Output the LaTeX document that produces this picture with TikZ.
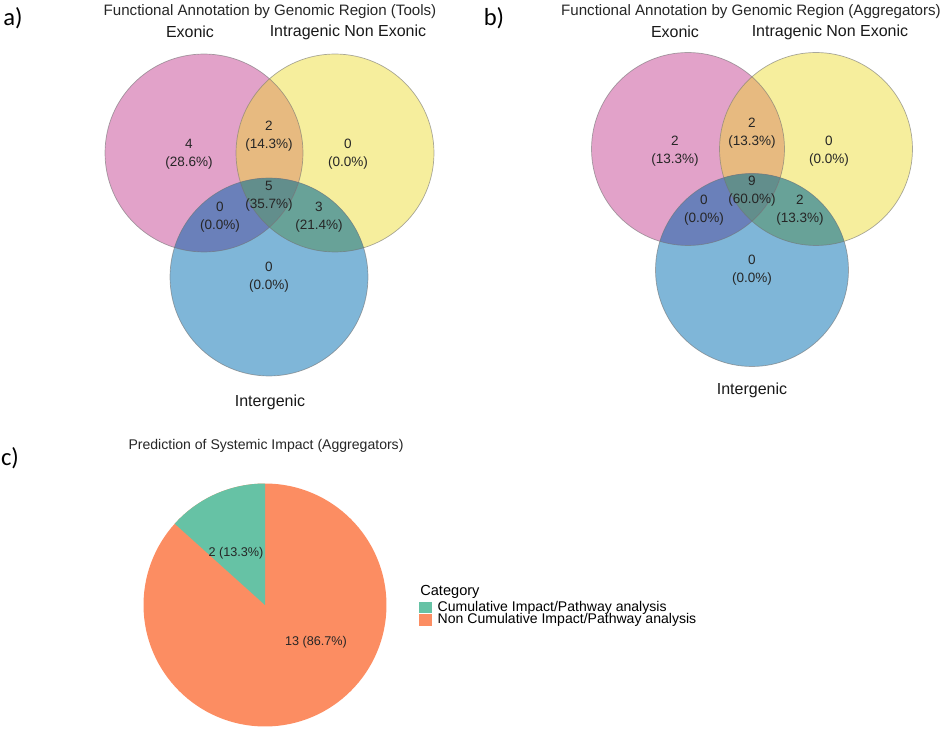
\documentclass[tikz,border=0pt]{standalone}
\usepackage{fontspec}
\setmainfont{Liberation Sans}
\newfontfamily\letterfont{Carlito}
\usetikzlibrary{positioning}

\definecolor{vpink}{RGB}{226,162,201}
\definecolor{vyellow}{RGB}{246,238,157}
\definecolor{vblue}{RGB}{127,182,216}
\definecolor{vorange}{RGB}{231,186,128}
\definecolor{vnavy}{RGB}{106,128,186}
\definecolor{vteal}{RGB}{104,162,152}
\definecolor{vcentre}{RGB}{98,142,140}
\definecolor{pgreen}{RGB}{102,194,165}
\definecolor{porange}{RGB}{252,141,98}

% three overlapping sets: centres #1 #2 #3, radius #4
\newcommand{\vennfill}[4]{%
  \fill[vpink] (#1) circle[radius=#4];
  \fill[vyellow] (#2) circle[radius=#4];
  \fill[vblue] (#3) circle[radius=#4];
  \begin{scope}
    \clip (#2) circle[radius=#4];
    \fill[vteal] (#3) circle[radius=#4];
  \end{scope}
  \begin{scope}
    \clip (#1) circle[radius=#4];
    \fill[vorange] (#2) circle[radius=#4];
    \fill[vnavy] (#3) circle[radius=#4];
    \clip (#2) circle[radius=#4];
    \fill[vcentre] (#3) circle[radius=#4];
  \end{scope}
  \draw[vline] (#1) circle[radius=#4];
  \draw[vline] (#2) circle[radius=#4];
  \draw[vline] (#3) circle[radius=#4];
}

\begin{document}
\begin{tikzpicture}[x=0.02cm,y=-0.02cm,
    vline/.style={draw=black!55,draw opacity=0.6,line width=0.4pt},
    panel/.style={font=\letterfont\fontsize{14}{16}\selectfont},
    charttitle/.style={font=\fontsize{8.6}{10}\selectfont,text=black!85},
    setlabel/.style={font=\fontsize{9.1}{11}\selectfont,text=black!90},
    count/.style={font=\fontsize{7.7}{10.3}\selectfont,align=center,text=black!85,inner sep=0pt},
    slicelabel/.style={font=\fontsize{7.2}{9}\selectfont,text=black!85},
    legendtext/.style={font=\fontsize{8}{9}\selectfont,anchor=west,inner sep=0pt},
    swatch/.style={minimum width=0.26cm,minimum height=0.24cm,inner sep=0pt}]
  \useasboundingbox (0,0) rectangle (941,733);

  % a) tools
  \coordinate (aex) at (204,153);
  \coordinate (ain) at (335,153);
  \coordinate (aig) at (269,277);
  \vennfill{aex}{ain}{aig}{1.98cm}
  \node[panel] (pa) at (13,18) {a)};
  \node[charttitle] (ta) at (270,12) {Functional Annotation by Genomic Region (Tools)};
  \node[setlabel] (la-ex) at (190,32) {Exonic};
  \node[setlabel] (la-in) at (348,32) {Intragenic Non Exonic};
  \node[setlabel] (la-ig) at (270,402) {Intergenic};
  \node[count] (ca-ex) at (189,154) {4\\(28.6\%)};
  \node[count] (ca-exin) at (269,136) {2\\(14.3\%)};
  \node[count] (ca-in) at (348,154) {0\\(0.0\%)};
  \node[count] (ca-all) at (269,196) {5\\(35.7\%)};
  \node[count] (ca-exig) at (220,217) {0\\(0.0\%)};
  \node[count] (ca-inig) at (319,217) {3\\(21.4\%)};
  \node[count] (ca-ig) at (269,277) {0\\(0.0\%)};

  % b) aggregators
  \coordinate (bex) at (688,149);
  \coordinate (bin) at (816,149);
  \coordinate (big) at (752,270);
  \vennfill{bex}{bin}{big}{1.93cm}
  \node[panel] (pb) at (494,18) {b)};
  \node[charttitle] (tb) at (751,12) {Functional Annotation by Genomic Region (Aggregators)};
  \node[setlabel] (lb-ex) at (675,32) {Exonic};
  \node[setlabel] (lb-in) at (830,32) {Intragenic Non Exonic};
  \node[setlabel] (lb-ig) at (752,390) {Intergenic};
  \node[count] (cb-ex) at (675,151) {2\\(13.3\%)};
  \node[count] (cb-exin) at (752,133) {2\\(13.3\%)};
  \node[count] (cb-in) at (829,151) {0\\(0.0\%)};
  \node[count] (cb-all) at (752,191) {9\\(60.0\%)};
  \node[count] (cb-exig) at (704,210) {0\\(0.0\%)};
  \node[count] (cb-inig) at (800,210) {2\\(13.3\%)};
  \node[count] (cb-ig) at (752,270) {0\\(0.0\%)};

  % c) pie
  \coordinate (pc) at (265,605);
  \fill[porange] (pc) circle[radius=2.43cm];
  \fill[pgreen] (pc) -- ++(90:2.43cm) arc[start angle=90,end angle=138,radius=2.43cm] -- cycle;
  \node[panel] (pcl) at (10,458) {c)};
  \node[charttitle,font=\fontsize{8}{10}\selectfont] (tc) at (266,446) {Prediction of Systemic Impact (Aggregators)};
  \node[slicelabel] (sl-cum) at (236,553) {2 (13.3\%)};
  \node[slicelabel] (sl-non) at (316,642) {13 (86.7\%)};

  % legend
  \node[legendtext,font=\fontsize{8.3}{9}\selectfont] (lg) at (420,592) {Category};
  \node[swatch,fill=pgreen] (sw-cum) at (425.5,607.5) {};
  \node[swatch,fill=porange,below=0pt of sw-cum] (sw-non) {};
  \node[legendtext,right=0.1cm of sw-cum] (lt-cum) {Cumulative Impact/Pathway analysis};
  \node[legendtext,right=0.1cm of sw-non] (lt-non) {Non Cumulative Impact/Pathway analysis};
\end{tikzpicture}
\end{document}
